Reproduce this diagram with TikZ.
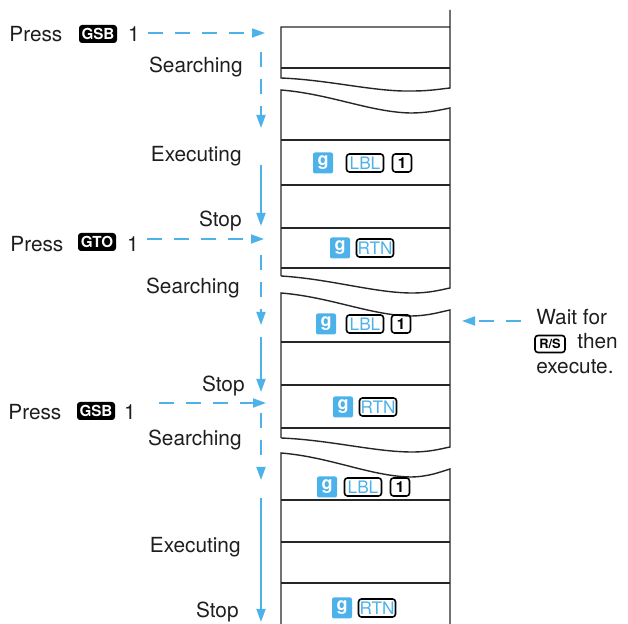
\documentclass[tikz,border=0pt]{standalone}
\usepackage{fontspec}
\setmainfont{TeX Gyre Heros}
\usetikzlibrary{arrows.meta,positioning}
\definecolor{hpBlue}{HTML}{4DB2EA}
\definecolor{hpInk}{HTML}{1E1E1E}
\tikzset{
  lbl/.style={font=\fontsize{10.4}{12}\selectfont, inner sep=0pt, text=hpInk},
  keyblk/.style={fill=black, text=white, rounded corners=1.5pt,
    font=\fontsize{7.6}{8}\selectfont\bfseries, minimum width=19pt, minimum height=9pt, inner sep=0.5pt},
  keyg/.style={fill=hpBlue, text=white, rounded corners=1pt,
    font=\fontsize{9}{9}\selectfont\bfseries, minimum width=10pt, minimum height=10.5pt, inner sep=0pt},
  keyout/.style={draw=black, line width=0.8pt, rounded corners=1.5pt, text=hpBlue,
    font=\fontsize{8.6}{9}\selectfont, minimum width=18.5pt, minimum height=9pt, inner sep=0.5pt},
  keynum/.style={keyout, text=black, font=\fontsize{7.6}{8}\selectfont\bfseries, minimum width=9.5pt},
  keyrs/.style={keyout, text=black, font=\fontsize{6.4}{7}\selectfont\bfseries, minimum width=15pt, minimum height=8.5pt},
  tape/.style={line width=0.7pt, black!85},
  flow/.style={-{Triangle[length=6.5pt, width=4.5pt]}, line width=0.9pt, hpBlue},
  dashflow/.style={flow, dash pattern=on 7.5pt off 6pt}
}
\begin{document}
\begin{tikzpicture}[x=0.5pt, y=-0.5pt]
  \useasboundingbox (0,0) rectangle (628,624);

  % program tape
  \draw[tape] (450,10) -- (450,88) .. controls (440,89) and (430,91) .. (412,91)
    .. controls (375,92) and (330,80) .. (281,78) -- (281,27) -- (450,27);
  \draw[tape] (281,68) -- (450,68);
  \draw[tape] (281,276) -- (281,90) .. controls (330,94) and (370,112) .. (410,113)
    .. controls (428,113) and (440,110) .. (450,108) -- (450,288)
    .. controls (440,290) and (430,293) .. (412,293) .. controls (375,293) and (330,279) .. (281,276);
  \foreach \y in {140,185,228,268} \draw[tape] (281,\y) -- (450,\y);
  \draw[tape] (281,438) -- (281,293) .. controls (330,297) and (370,315) .. (410,316)
    .. controls (428,316) and (440,312) .. (450,310) -- (450,447)
    .. controls (440,449) and (430,452) .. (412,452) .. controls (375,452) and (330,440) .. (281,438);
  \foreach \y in {342,385,428} \draw[tape] (281,\y) -- (450,\y);
  \draw[tape] (281,624) -- (281,453) .. controls (330,457) and (370,476) .. (410,477)
    .. controls (428,477) and (440,472) .. (450,469) -- (450,624);
  \foreach \y in {500,542,583} \draw[tape] (281,\y) -- (450,\y);

  % keys on the tape
  \node[keyg] (gA) at (323,163) {g};
  \node[keyout] (lblA) at (365,163) {LBL};
  \node[keynum] (digA) at (402,163) {1};
  \node[keyg] (gB) at (340,248) {g};
  \node[keyout] (rtnB) at (375,248) {RTN};
  \node[keyg] (gC) at (326,324) {g};
  \node[keyout] (lblC) at (365,324) {LBL};
  \node[keynum] (digC) at (401,324) {1};
  \node[keyg] (gD) at (343,407) {g};
  \node[keyout] (rtnD) at (378,407) {RTN};
  \node[keyg] (gE) at (327,487) {g};
  \node[keyout] (lblE) at (363,487) {LBL};
  \node[keynum] (digE) at (400,487) {1};
  \node[keyg] (gF) at (342,608) {g};
  \node[keyout] (rtnF) at (377,608) {RTN};

  % keystrokes on the left
  \node[lbl, anchor=base west] (pressA) at (9,42) {Press};
  \node[keyblk] (keyA) at (98,34) {GSB};
  \node[lbl, anchor=base] (numA) at (134,42) {1};
  \node[lbl, anchor=base west] (pressB) at (10,252) {Press};
  \node[keyblk] (keyB) at (97,242) {GTO};
  \node[lbl, anchor=base] (numB) at (133,252) {1};
  \node[lbl, anchor=base west] (pressC) at (8,420) {Press};
  \node[keyblk] (keyC) at (96,411) {GSB};
  \node[lbl, anchor=base] (numC) at (130,420) {1};

  % states
  \node[lbl, anchor=base east] (srchA) at (243,73) {Searching};
  \node[lbl, anchor=base east] (execA) at (242,162) {Executing};
  \node[lbl, anchor=base east] (stopA) at (242,227) {Stop};
  \node[lbl, anchor=base east] (srchB) at (240,294) {Searching};
  \node[lbl, anchor=base east] (stopB) at (245,392) {Stop};
  \node[lbl, anchor=base east] (srchC) at (242,446) {Searching};
  \node[lbl, anchor=base east] (execC) at (241,553) {Executing};
  \node[lbl, anchor=base east] (stopC) at (239,618) {Stop};

  % wait note
  \node[lbl, anchor=base west] (waitA) at (536,325) {Wait for};
  \node[keyrs] (rsA) at (550,344) {R/S};
  \node[lbl, anchor=base west] (thenA) at (577,349) {then};
  \node[lbl, anchor=base west] (execN) at (536,374) {execute.};

  % flow of control
  \coordinate (hA0) at (148,33);  \coordinate (hA) at (265,33);
  \coordinate (hB0) at (147,239); \coordinate (hB) at (264,239);
  \coordinate (hC0) at (159,403); \coordinate (hC) at (266,403);
  \coordinate (sA0) at (261,52);  \coordinate (sA) at (261,128);
  \coordinate (eA0) at (261,165); \coordinate (eA) at (261,226);
  \coordinate (sB0) at (261,255); \coordinate (sB) at (261,325);
  \coordinate (eB0) at (261,337); \coordinate (eB) at (261,392);
  \coordinate (sC0) at (261,413); \coordinate (sC) at (261,480);
  \coordinate (eC0) at (261,498); \coordinate (eC) at (261,622);
  \coordinate (wA0) at (521,321); \coordinate (wA) at (462,321);
  \draw[dashflow] (hA0) -- (hA);
  \draw[dashflow] (hB0) -- (hB);
  \draw[dashflow] (hC0) -- (hC);
  \draw[dashflow] (sA0) -- (sA);
  \draw[dashflow] (sB0) -- (sB);
  \draw[dashflow] (sC0) -- (sC);
  \draw[flow] (eA0) -- (eA);
  \draw[flow] (eB0) -- (eB);
  \draw[flow] (eC0) -- (eC);
  \draw[dashflow] (wA0) -- (wA);
\end{tikzpicture}
\end{document}
